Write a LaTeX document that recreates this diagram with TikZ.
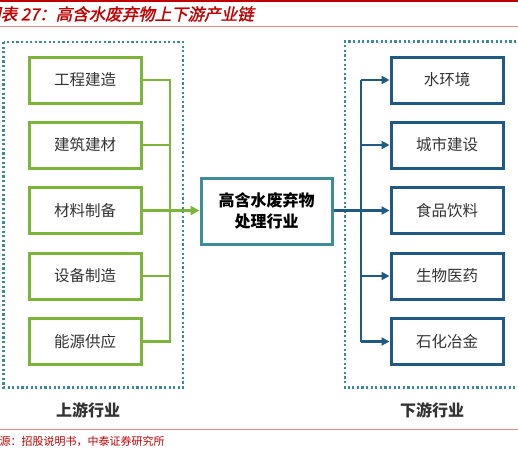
\documentclass[tikz,border=0pt]{standalone}
\usepackage{fontspec}
\setmainfont{Noto Sans CJK SC}
\newfontfamily\titlefont[FakeSlant=0.22,FakeBold=1.5]{Noto Sans CJK SC}
\newfontfamily\srcfont{Noto Sans CJK SC}
\usetikzlibrary{arrows.meta}
\definecolor{upgreen}{HTML}{7CB53A}
\definecolor{teal}{HTML}{3E8D98}
\definecolor{dotteal}{HTML}{3A8A9A}
\definecolor{downblue}{HTML}{1F5A85}
\definecolor{titlered}{HTML}{C00000}
\definecolor{linered}{HTML}{E08A8A}
\definecolor{txtgray}{HTML}{333333}
\tikzset{
  upbox/.style={draw=upgreen,line width=3pt,minimum width=112pt,minimum height=46pt,inner sep=0pt,font=\fontsize{15.5}{18}\selectfont,text=txtgray},
  downbox/.style={draw=downblue,line width=3pt,minimum width=112pt,minimum height=46pt,inner sep=0pt,font=\fontsize{15.5}{18}\selectfont,text=txtgray},
  midbox/.style={draw=teal,line width=3pt,minimum width=131pt,minimum height=66pt,inner sep=0pt,align=center,font=\fontsize{16}{21}\selectfont\bfseries,text=black},
  dotframe/.style={draw=dotteal,line width=2.5pt,dash pattern=on 2.2pt off 2.4pt},
  upline/.style={draw=upgreen,line width=2.5pt},
  downline/.style={draw=downblue,line width=2.5pt},
  grouplabel/.style={font=\fontsize{16}{18}\selectfont\bfseries,text=txtgray},
}
\begin{document}
\begin{tikzpicture}[x=1pt,y=-1pt]
\useasboundingbox[fill=white] (0,0) rectangle (518,453);
% title
\fill[titlered] (0,0) rectangle (518,2);
\draw[linered,line width=1pt] (0,26.5) -- (518,26.5);
\node[anchor=west,inner sep=0pt,text=titlered,font=\titlefont\fontsize{16.5}{18}\selectfont] (title) at (-16,14) {图表 27：高含水废弃物上下游产业链};
% frames
\draw[dotframe] (3.5,42) rectangle (183,387.5);
\draw[dotframe] (530,41.5) -- (345,41.5) -- (345,387.5) -- (530,387.5);
% upstream boxes
\node[upbox] (u1) at (85,80) {工程建造};
\node[upbox] (u2) at (85,145) {建筑建材};
\node[upbox] (u3) at (85,210.5) {材料制备};
\node[upbox] (u4) at (85,276) {设备制造};
\node[upbox] (u5) at (85,341.5) {能源供应};
% middle
\node[midbox] (m) at (266.5,211) {高含水废弃物\\处理行业};
% downstream boxes
\node[downbox] (d1) at (447,80) {水环境};
\node[downbox] (d2) at (447,145) {城市建设};
\node[downbox] (d3) at (447,210.5) {食品饮料};
\node[downbox] (d4) at (447,276) {生物医药};
\node[downbox] (d5) at (447,341.5) {石化冶金};
% upstream connectors
\coordinate (ubus1) at (170,80);
\coordinate (ubus5) at (170,341.5);
\coordinate (ubus3) at (170,210.5);
\draw[upline] (u1.east) -- (ubus1) -- (ubus5) -- (u5.east);
\draw[upline] (u2.east) -- (u2.east -| ubus1);
\draw[upline] (u4.east) -- (u4.east -| ubus1);
\draw[upline,-{Triangle[length=9pt,width=9pt]}] (u3.east) -- (m.west |- u3.east);
% downstream connectors
\coordinate (dbus1) at (361,80);
\coordinate (dbus5) at (361,341.5);
\draw[downline] (m.east |- d3.west) -- (d3.west -| dbus1);
\draw[downline] (dbus1) -- (dbus5);
\foreach \i in {1,...,5}{
  \draw[downline,-{Triangle[length=8pt,width=8pt]}] (d\i.west -| dbus1) -- (d\i.west);
}
% group labels
\node[grouplabel] (ul) at (88,410) {上游行业};
\node[grouplabel] (dl) at (432,410) {下游行业};
% source
\draw[linered,line width=1pt] (0,429) -- (518,429);
\node[anchor=west,inner sep=0pt,text=titlered,font=\srcfont\fontsize{11}{13}\selectfont] (src) at (-11.5,441) {来源：招股说明书，中泰证券研究所};
\end{tikzpicture}
\end{document}
